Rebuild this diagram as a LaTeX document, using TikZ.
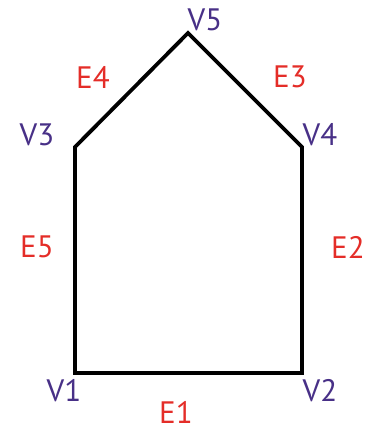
\documentclass[tikz,border=0pt]{standalone}
\usepackage{fontspec}
\setmainfont{PT Sans}
\definecolor{vertcol}{RGB}{72,48,135}
\definecolor{edgecol}{RGB}{228,45,40}
\tikzset{
  vlabel/.style={text=vertcol, font=\fontsize{31}{33}\selectfont, inner sep=0pt},
  elabel/.style={text=edgecol, font=\fontsize{31}{33}\selectfont, inner sep=0pt},
}
\begin{document}
\begin{tikzpicture}[x=1pt, y=-1pt]
\useasboundingbox (0,0) rectangle (371,432);

% ============================================================
% Corners of the house
% ============================================================
\coordinate (p1) at (75,373);
\coordinate (p2) at (302,373);
\coordinate (p4) at (302,147);
\coordinate (p5) at (188,33);
\coordinate (p3) at (75,147);

\draw[line width=3.8pt, line join=miter]
  (p1) -- (p2) -- (p4) -- (p5) -- (p3) -- cycle;

% ============================================================
% Vertex labels
% ============================================================
\node[vlabel] (v1) at (64,391) {V1};
\node[vlabel] (v2) at (320,391) {V2};
\node[vlabel] (v3) at (37,135) {V3};
\node[vlabel] (v4) at (320,135) {V4};
\node[vlabel] (v5) at (205,20) {V5};

% ============================================================
% Edge labels
% ============================================================
\node[elabel] (e1) at (176,412) {E1};
\node[elabel] (e2) at (348,247) {E2};
\node[elabel] (e3) at (290,77) {E3};
\node[elabel] (e4) at (93,77) {E4};
\node[elabel] (e5) at (37,247) {E5};

\end{tikzpicture}
\end{document}
